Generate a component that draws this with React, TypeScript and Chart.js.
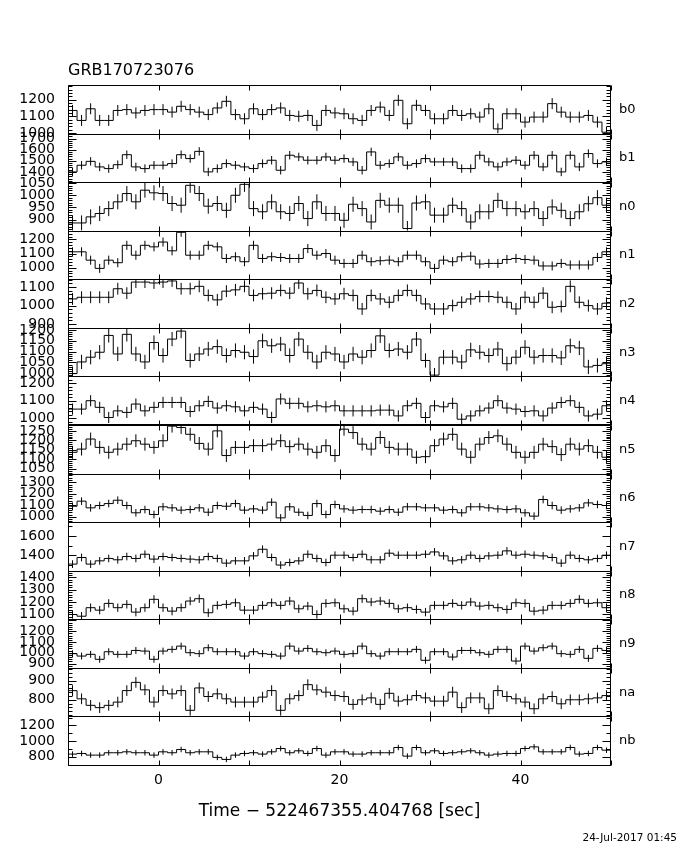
import React, { useEffect, useRef } from 'react';
import { Chart, registerables } from 'chart.js';

Chart.register(...registerables);

// ---------- data ----------
const TITLE = 'GRB170723076';
const X_TITLE = 'Time \u2212 522467355.404768 [sec]';
const DATE_STAMP = '24-Jul-2017 01:45';

const DETECTORS = ['b0', 'b1', 'n0', 'n1', 'n2', 'n3', 'n4', 'n5', 'n6', 'n7', 'n8', 'n9', 'na', 'nb'];

const T_START = -10; // s, left edge of first bin
const BIN_WIDTH = 1; // s
const X_MIN = -10;
const X_MAX = 50;
const X_LABELS = [0, 20, 40];
const X_TICKS = [-10, 0, 10, 20, 30, 40, 50];

const b0 = [1135, 1075, 1145, 1075, 1075, 1135, 1140, 1120, 1135, 1140, 1140, 1125, 1160, 1140, 1125, 1110, 1150, 1190, 1110, 1085, 1145, 1110, 1140, 1150, 1105, 1100, 1105, 1045, 1135, 1120,
  1115, 1085, 1075, 1135, 1155, 1105, 1196, 1055, 1166, 1135, 1085, 1085, 1135, 1105, 1115, 1095, 1145, 1024, 1115, 1115, 1065, 1095, 1095, 1176, 1125, 1095, 1095, 1105, 1065, 1004];
const b1 = [1400, 1460, 1495, 1445, 1430, 1465, 1555, 1445, 1430, 1460, 1460, 1475, 1555, 1520, 1585, 1400, 1430, 1475, 1460, 1445, 1430, 1475, 1505, 1415, 1550, 1535, 1505, 1505, 1535, 1505,
  1520, 1490, 1415, 1580, 1460, 1475, 1535, 1460, 1475, 1520, 1490, 1490, 1490, 1430, 1430, 1550, 1490, 1445, 1490, 1505, 1460, 1550, 1445, 1550, 1400, 1550, 1445, 1565, 1475, 1490];
const n0 = [886, 886, 911, 925, 945, 973, 1007, 973, 1021, 1010, 1007, 966, 959, 1041, 1007, 955, 966, 938, 1000, 1045, 945, 932, 973, 932, 925, 966, 904, 973, 925, 925,
  897, 963, 945, 890, 979, 959, 959, 863, 968, 973, 918, 918, 959, 945, 890, 932, 932, 979, 945, 945, 932, 945, 904, 952, 938, 904, 932, 965, 990, 959];
const n1 = [1112, 1112, 1053, 995, 1053, 1035, 1158, 1088, 1158, 1147, 1181, 1119, 1250, 1088, 1088, 1158, 1147, 1065, 1077, 1042, 1158, 1065, 1077, 1072, 1065, 1065, 1135, 1088, 1100, 1053,
  1030, 1030, 1088, 1042, 1049, 1053, 1042, 1088, 1088, 1042, 995, 1053, 1042, 1077, 1081, 1026, 1030, 1030, 1058, 1065, 1058, 1053, 1012, 1012, 1030, 1019, 1019, 1019, 1072, 1112];
const n2 = [1036, 1045, 1045, 1045, 1045, 1091, 1067, 1127, 1127, 1122, 1127, 1133, 1091, 1091, 1104, 1055, 1031, 1078, 1085, 1104, 1055, 1064, 1067, 1082, 1067, 1122, 1064, 1082, 1045, 1036,
  1064, 1055, 982, 1055, 1036, 1018, 1055, 1082, 1055, 1009, 982, 982, 1000, 1018, 1036, 1049, 1049, 1045, 1018, 982, 1045, 1018, 1067, 991, 995, 1104, 1018, 1000, 982, 1013];
const n3 = [998, 1052, 1074, 1097, 1175, 1089, 1180, 1089, 1052, 1142, 1082, 1158, 1195, 1059, 1089, 1112, 1123, 1082, 1105, 1097, 1077, 1150, 1127, 1135, 1082, 1158, 1097, 1052, 1097, 1089,
  1052, 1089, 1074, 1105, 1173, 1105, 1112, 1097, 1158, 1059, 991, 1074, 1074, 1052, 1108, 1097, 1082, 1112, 1044, 1074, 1120, 1074, 1082, 1082, 1071, 1127, 1117, 1029, 1036, 1044];
const n4 = [1052, 1052, 1100, 1062, 1004, 1042, 1033, 1081, 1042, 1062, 1090, 1090, 1090, 1038, 1071, 1096, 1058, 1071, 1065, 1042, 1062, 1052, 1004, 1110, 1085, 1085, 1065, 1071, 1065, 1071,
  1042, 1042, 1042, 1042, 1046, 1046, 1013, 1071, 1085, 1004, 1071, 1065, 1085, 994, 1013, 1042, 1058, 1100, 1058, 1052, 1038, 1042, 1013, 1058, 1090, 1100, 1062, 1013, 1023, 1071];
const n5 = [1137, 1154, 1207, 1163, 1137, 1154, 1180, 1198, 1180, 1163, 1198, 1275, 1268, 1232, 1184, 1154, 1250, 1120, 1163, 1163, 1172, 1172, 1180, 1198, 1167, 1180, 1154, 1137, 1172, 1120,
  1259, 1241, 1180, 1154, 1215, 1163, 1154, 1154, 1111, 1114, 1172, 1207, 1232, 1154, 1111, 1180, 1215, 1224, 1180, 1137, 1111, 1137, 1180, 1167, 1125, 1180, 1154, 1172, 1137, 1111];
const n6 = [1092, 1136, 1078, 1098, 1115, 1144, 1098, 1035, 1063, 1020, 1087, 1078, 1058, 1063, 1078, 1040, 1098, 1092, 1115, 1058, 1069, 1058, 1127, 991, 1087, 1040, 1012, 1115, 1020, 1107,
  1069, 1058, 1063, 1063, 1049, 1063, 1040, 1087, 1087, 1078, 1078, 1058, 1063, 1035, 1087, 1087, 1078, 1069, 1063, 1069, 1035, 1006, 1150, 1098, 1058, 1069, 1078, 1121, 1107, 1098];
const n7 = [1307, 1376, 1307, 1341, 1366, 1352, 1386, 1366, 1410, 1359, 1386, 1376, 1366, 1359, 1352, 1386, 1366, 1317, 1341, 1341, 1393, 1462, 1376, 1297, 1324, 1341, 1410, 1366, 1324, 1400,
  1400, 1376, 1410, 1352, 1352, 1421, 1400, 1400, 1400, 1410, 1434, 1393, 1341, 1352, 1400, 1366, 1393, 1400, 1445, 1400, 1410, 1400, 1393, 1376, 1317, 1400, 1366, 1352, 1366, 1400];
const n8 = [1100, 1086, 1155, 1135, 1190, 1155, 1182, 1119, 1155, 1223, 1155, 1127, 1155, 1209, 1228, 1114, 1174, 1182, 1195, 1135, 1135, 1174, 1195, 1174, 1209, 1146, 1168, 1100, 1190, 1195,
  1146, 1127, 1228, 1201, 1209, 1190, 1146, 1155, 1141, 1119, 1174, 1174, 1190, 1174, 1201, 1168, 1174, 1155, 1141, 1195, 1190, 1127, 1135, 1174, 1174, 1190, 1223, 1190, 1195, 1155];
const n9 = [992, 970, 986, 940, 1010, 986, 986, 1022, 1016, 940, 1016, 1032, 1062, 1001, 992, 1047, 1010, 1010, 1010, 970, 1010, 992, 986, 970, 1062, 1016, 1041, 1010, 1001, 1016,
  986, 992, 1062, 992, 970, 1010, 1010, 1010, 1032, 931, 1010, 1010, 961, 1022, 1022, 1001, 986, 1032, 1032, 924, 1062, 1016, 1047, 1062, 992, 986, 1032, 949, 1041, 1022];
const na = [848, 805, 771, 759, 771, 788, 848, 891, 852, 788, 848, 831, 848, 745, 862, 817, 831, 805, 788, 788, 788, 814, 848, 745, 805, 822, 879, 852, 840, 822,
  817, 776, 800, 810, 776, 834, 793, 800, 822, 810, 793, 793, 840, 759, 810, 810, 753, 848, 817, 805, 788, 753, 805, 817, 779, 800, 800, 805, 810, 822];
const nb = [834, 842, 821, 821, 851, 851, 863, 851, 851, 821, 863, 851, 893, 851, 863, 863, 792, 766, 821, 842, 851, 834, 863, 905, 851, 876, 842, 905, 821, 863,
  863, 834, 834, 851, 851, 851, 918, 808, 918, 851, 876, 842, 851, 863, 876, 851, 821, 834, 842, 842, 905, 926, 863, 863, 863, 918, 834, 842, 918, 884];

const SERIES = [b0, b1, n0, n1, n2, n3, n4, n5, n6, n7, n8, n9, na, nb];
// one-sigma error per detector (counts per bin)
const ERRORS = [33, 38, 31, 32, 32, 33, 32, 34, 33, 40, 34, 32, 28, 35];

// per-panel y ranges and tick layout
const Y_MIN = [996, 1308, 854, 918, 880, 985, 961, 1025, 954, 1238, 1061, 861, 713, 695];
const Y_MAX = [1288, 1745, 1054, 1261, 1142, 1210, 1239, 1281, 1375, 1745, 1455, 1310, 967, 1314];
const Y_MAJOR = [100, 100, 50, 100, 100, 50, 100, 50, 100, 200, 100, 100, 100, 200];
const Y_MINOR = [20, 20, 10, 20, 20, 10, 20, 10, 20, 100, 20, 20, 20, 100];
const Y_LABELS = [
  [1000, 1100, 1200],
  [1400, 1500, 1600, 1700],
  [900, 950, 1000, 1050],
  [1000, 1100, 1200],
  [900, 1000, 1100],
  [1000, 1050, 1100, 1150, 1200],
  [1000, 1100, 1200],
  [1050, 1100, 1150, 1200, 1250],
  [1000, 1100, 1200, 1300],
  [1400, 1600],
  [1100, 1200, 1300, 1400],
  [900, 1000, 1100, 1200],
  [800, 900],
  [800, 1000, 1200],
];
// panel whose top border is drawn doubled (n4 / n5 boundary)
const DOUBLE_TOP_PANEL = 7;

const FONT = "'DejaVu Sans', sans-serif";

// ---------- plugin: panel frames with inward ticks ----------
const framePlugin = {
  id: 'panelFrames',
  afterDatasetsDraw(chart: any) {
    const ctx = chart.ctx;
    const area = chart.chartArea;
    const xs = chart.scales.x;
    const L = Math.round(area.left) + 0.5;
    const R = Math.round(area.right) - 0.5;
    ctx.save();
    ctx.strokeStyle = '#000';
    ctx.lineWidth = 1;
    ctx.beginPath();
    DETECTORS.forEach((_, i) => {
      const ys = chart.scales['y' + i];
      const T = Math.round(ys.top) + 0.5;
      const B = Math.round(ys.bottom) + 0.5;
      ctx.moveTo(L, T); ctx.lineTo(R, T); ctx.lineTo(R, B); ctx.lineTo(L, B); ctx.closePath();
      if (i === DOUBLE_TOP_PANEL) { ctx.moveTo(L, T - 1); ctx.lineTo(R, T - 1); }
      X_TICKS.forEach((t) => {
        const px = Math.round(xs.getPixelForValue(t)) + 0.5;
        ctx.moveTo(px, T); ctx.lineTo(px, T + 5);
        ctx.moveTo(px, B); ctx.lineTo(px, B - 5);
      });
      const minor = Y_MINOR[i];
      const major = Y_MAJOR[i];
      for (let v = Math.ceil(Y_MIN[i] / minor) * minor; v <= Y_MAX[i]; v += minor) {
        const py = Math.round(ys.getPixelForValue(v)) + 0.5;
        const isMajor = Math.abs(v / major - Math.round(v / major)) < 1e-6;
        const len = isMajor ? 8 : 4;
        ctx.moveTo(L, py); ctx.lineTo(L + len, py);
        ctx.moveTo(R, py); ctx.lineTo(R - len, py);
      }
    });
    ctx.stroke();
    ctx.restore();
  },
};

export default function App() {
  const canvasRef = useRef<HTMLCanvasElement | null>(null);

  useEffect(() => {
    if (!canvasRef.current) return;
    const datasets: any[] = [];
    SERIES.forEach((vals, i) => {
      const n = vals.length;
      const step: any[] = [{ x: T_START, y: vals[0] }];
      vals.forEach((v, k) => step.push({ x: T_START + (k + 0.5) * BIN_WIDTH, y: v }));
      step.push({ x: T_START + n * BIN_WIDTH, y: vals[n - 1] });
      datasets.push({
        data: step,
        xAxisID: 'x',
        yAxisID: 'y' + i,
        stepped: 'middle',
        borderColor: '#000',
        borderWidth: 1,
        pointRadius: 0,
        fill: false,
      });
      const bars: any[] = [];
      vals.forEach((v, k) => {
        const c = T_START + (k + 0.5) * BIN_WIDTH;
        bars.push({ x: c, y: Math.max(v - ERRORS[i], Y_MIN[i]) });
        bars.push({ x: c, y: Math.min(v + ERRORS[i], Y_MAX[i]) });
        bars.push({ x: c, y: null });
      });
      datasets.push({
        data: bars,
        xAxisID: 'x',
        yAxisID: 'y' + i,
        borderColor: '#000',
        borderWidth: 1,
        pointRadius: 0,
        fill: false,
        spanGaps: false,
      });
    });

    const scales: any = {
      x: {
        type: 'linear',
        position: 'bottom',
        min: X_MIN,
        max: X_MAX,
        bounds: 'data',
        grid: { display: false, drawTicks: false },
        border: { display: false },
        ticks: { font: { family: FONT, size: 14 }, color: '#000', padding: 7, autoSkip: false, maxRotation: 0, callback: (v: any) => String(v) },
        afterBuildTicks: (s: any) => { s.ticks = X_LABELS.map((v) => ({ value: v })); },
        afterFit: (s: any) => { s.height = 85; },
        title: { display: true, text: X_TITLE, font: { family: FONT, size: 17 }, color: '#000', padding: { top: 0, bottom: 28 } },
      },
    };
    DETECTORS.forEach((name, i) => {
      scales['y' + i] = {
        type: 'linear',
        position: 'left',
        stack: 'left',
        stackWeight: 1,
        weight: DETECTORS.length - i,
        min: Y_MIN[i],
        max: Y_MAX[i],
        bounds: 'data',
        grid: { display: false, drawTicks: false },
        border: { display: false },
        ticks: { font: { family: FONT, size: 14 }, color: '#000', padding: 13, autoSkip: false, callback: (v: any) => String(v) },
        afterBuildTicks: (s: any) => { s.ticks = Y_LABELS[i].map((v) => ({ value: v })); },
        afterFit: (s: any) => { s.width = 68; },
      };
      scales['r' + i] = {
        type: 'linear',
        display: true,
        position: 'right',
        stack: 'right',
        stackWeight: 1,
        weight: i,
        min: Y_MIN[i],
        max: Y_MAX[i],
        bounds: 'data',
        grid: { display: false, drawTicks: false },
        border: { display: false },
        ticks: { font: { family: FONT, size: 13 }, color: '#000', padding: 8, autoSkip: false, callback: () => name },
        afterBuildTicks: (s: any) => { s.ticks = [{ value: (Y_MIN[i] + Y_MAX[i]) / 2 }]; },
        afterFit: (s: any) => { s.width = 69; },
      };
    });

    const chart = new Chart(canvasRef.current, {
      type: 'line',
      data: { datasets },
      options: {
        animation: false,
        responsive: false,
        devicePixelRatio: 1,
        layout: { padding: { top: 85, left: 0, right: 0, bottom: 0 } },
        plugins: { legend: { display: false }, tooltip: { enabled: false }, title: { display: false } },
        scales,
      } as any,
      plugins: [framePlugin as any],
    });
    return () => chart.destroy();
  }, []);

  return (
    <div style={{ position: 'fixed', left: 0, top: 0, width: 680, height: 850, background: '#fff', overflow: 'hidden' }}>
      <canvas ref={canvasRef} width={680} height={850} style={{ position: 'absolute', left: 0, top: 0 }} />
      <div style={{ position: 'absolute', left: 68, top: 61, fontFamily: FONT, fontSize: 16, lineHeight: '18px', color: '#000', whiteSpace: 'nowrap' }}>{TITLE}</div>
      <div style={{ position: 'absolute', right: 3, top: 831, fontFamily: FONT, fontSize: 10.5, lineHeight: '12px', color: '#000', whiteSpace: 'nowrap' }}>{DATE_STAMP}</div>
    </div>
  );
}
